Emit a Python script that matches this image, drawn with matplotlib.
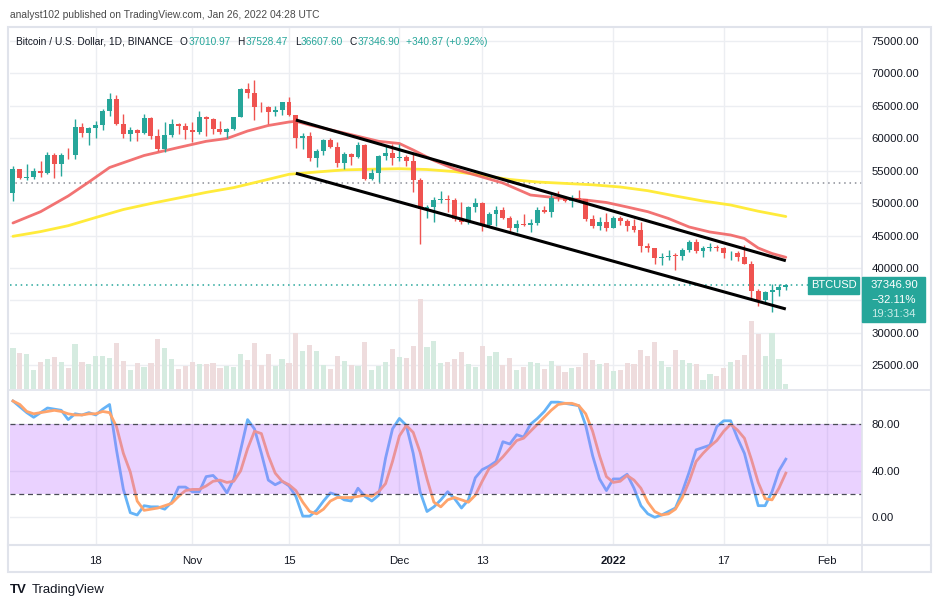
import numpy as np
import pandas as pd
import matplotlib
matplotlib.use("Agg")
import matplotlib.pyplot as plt
from matplotlib.lines import Line2D
from matplotlib.patches import Rectangle
from matplotlib.transforms import blended_transform_factory

W, H = 941, 608
plt.rcParams['font.family'] = ['Liberation Sans', 'DejaVu Sans']

# ---- data (BTCUSD daily) ----
dates = pd.date_range('2021-10-06', '2022-01-26', freq='D')
opens = [51486, 55338, 53805, 53967, 54968, 54659, 57471, 56005, 57367, 57347,
         61672, 60875, 61528, 62010, 64280, 66001, 62193, 60688, 61286, 60852,
         63078, 60328, 58413, 60575, 62253, 61859, 61299, 60911, 63254, 62896,
         61396, 60941, 61470, 63274, 67525, 66947, 64882, 64775, 64123, 64380,
         65519, 63607, 60059, 60345, 56891, 58052, 59707, 58617, 56247, 57541,
         57138, 58960, 53723, 54716, 57274, 57777, 56950, 57185, 56485, 53602,
         49153, 49397, 50441, 50589, 50472, 47536, 47140, 49389, 50054, 46703,
         48336, 48864, 47632, 46134, 46834, 46682, 46918, 48887, 48588, 50839,
         50820, 50400, 50775, 50702, 47544, 46464, 47121, 46216, 47722, 47286,
         46446, 45832, 43451, 43082, 41566, 41679, 41865, 41865, 42736, 43946,
         42592, 43099, 43177, 43113, 42250, 42375, 41744, 40680, 36471, 35071,
         36244, 36660, 37011]
highs = [55750, 55338, 56100, 55489, 56561, 57839, 57680, 57778, 58532, 62933,
         62350, 61720, 62695, 64486, 67000, 66639, 63732, 61747, 61500, 63710,
         63293, 61496, 62499, 62980, 62359, 62405, 62437, 64270, 63500, 63086,
         62595, 61560, 63286, 67789, 68524, 69000, 65600, 65000, 64960, 65550,
         66401, 63617, 60824, 60977, 58372, 59845, 60029, 59444, 57875, 57735,
         59398, 59150, 55280, 57445, 58865, 59176, 59053, 57376, 57600, 53859,
         49699, 50939, 51936, 51200, 50797, 50125, 49485, 50777, 50189, 48700,
         49500, 49436, 47995, 47392, 48300, 47537, 49328, 49576, 51375, 51810,
         51156, 51281, 52088, 50704, 48139, 47900, 48548, 47954, 47990, 47570,
         47557, 47070, 43817, 43145, 42300, 42786, 42248, 43100, 44350, 44459,
         43448, 43800, 43478, 43180, 42690, 42578, 43505, 41100, 36835, 36499,
         37550, 37545, 37528]
lows = [50382, 53657, 53617, 53661, 54100, 54415, 53879, 54253, 56818, 56850,
        60150, 58963, 60000, 61322, 63481, 62000, 60000, 59562, 59510, 60650,
        59817, 58000, 57820, 60174, 60673, 59945, 59405, 60624, 60382, 60677,
        60721, 60050, 61322, 63273, 66222, 62822, 64100, 62278, 63383, 63577,
        63400, 58574, 58373, 56474, 55600, 57353, 58487, 55610, 55317, 55837,
        57000, 53500, 53610, 53256, 56666, 55875, 56458, 55777, 51680, 43650,
        47727, 47100, 50039, 48600, 47320, 46852, 46751, 48638, 45672, 46290,
        46547, 47511, 45456, 45500, 46406, 45558, 46630, 48421, 47920, 50384,
        50142, 49412, 50449, 47313, 46096, 45900, 45678, 46208, 46654, 45696,
        45502, 42500, 42430, 40610, 40501, 41200, 39650, 41268, 42450, 42311,
        41725, 42555, 42581, 41540, 41250, 41138, 40553, 35440, 34200, 34601,
        33150, 35701, 36608]
closes = [55338, 53805, 53967, 54968, 54659, 57471, 56005, 57367, 57347, 61672,
          60875, 61528, 62010, 64280, 66001, 62193, 60688, 61286, 60852, 63078,
          60328, 58413, 60575, 62253, 61859, 61299, 60911, 63219, 62896, 61395,
          60937, 61470, 63273, 67525, 66947, 64882, 64774, 64122, 64380, 65519,
          63607, 60058, 60345, 56891, 58052, 59707, 58622, 56247, 57541, 57138,
          58960, 53726, 54721, 57274, 57776, 56950, 57184, 56480, 53601, 49152,
          49396, 50441, 50588, 50471, 47545, 47140, 49389, 50053, 46702, 48343,
          48864, 47632, 46131, 46834, 46681, 46914, 48889, 48588, 50838, 50820,
          50400, 50775, 50701, 47543, 46464, 47120, 46216, 47722, 47286, 46446,
          45832, 43451, 43082, 41566, 41679, 41865, 41864, 42736, 43949, 42592,
          43099, 43177, 43113, 42250, 42375, 41744, 40681, 36445, 35071, 36244,
          36660, 37006, 37347]
volume = [123, 108, 105, 57, 81, 90, 96, 81, 63, 135,
          81, 75, 99, 99, 93, 138, 84, 57, 78, 66,
          78, 150, 123, 90, 60, 69, 81, 75, 75, 78,
          63, 69, 66, 105, 87, 138, 72, 105, 69, 90,
          78, 168, 114, 132, 114, 72, 60, 99, 84, 72,
          69, 141, 57, 69, 81, 120, 96, 93, 129, 270,
          126, 144, 78, 81, 90, 111, 75, 66, 129, 99,
          111, 72, 93, 57, 66, 81, 78, 60, 84, 69,
          51, 63, 66, 108, 87, 75, 78, 54, 57, 78,
          75, 117, 99, 141, 84, 66, 117, 87, 78, 75,
          27, 45, 39, 63, 81, 87, 102, 204, 166, 99,
          169, 90, 15]

# moving averages (red fast, yellow slow), sampled along the lines
ma_fast_days = [0, 4, 8, 11, 14, 19, 24, 28, 31, 34, 37, 40, 41, 43, 48, 53, 56, 58,
                61, 64, 68, 71, 75, 79, 83, 86, 89, 92, 95, 98, 101, 104, 106, 108, 110, 112]
ma_fast = [46936, 48678, 51099, 53258, 55494, 57344, 58578, 59534, 59965, 61122, 61970,
           62510, 62618, 62047, 60814, 59534, 59194, 58192, 56573, 55262, 54029, 53104,
           51253, 50791, 50482, 50097, 49403, 48678, 47629, 46319, 45548, 45085, 44545,
           43081, 42232, 41647]
ma_slow_days = [0, 4, 8, 12, 16, 20, 24, 28, 32, 36, 40, 44, 48, 52, 56, 60, 64, 68,
                72, 76, 80, 84, 88, 92, 96, 100, 104, 108, 112]
ma_slow = [44885, 45609, 46519, 47784, 49017, 49942, 50791, 51654, 52394, 53412, 54445,
           54800, 55124, 55232, 55309, 55185, 54861, 54291, 53643, 53258, 53042, 52826,
           52487, 51916, 51099, 50328, 49711, 48755, 47938]

# stochastic RSI %K / %D
stoch_k = [100, 95, 90, 86, 90, 94, 93, 92, 84, 89, 88, 90, 88, 93, 97, 58, 24, 4, 2, 10,
           9, 9, 7, 13, 26, 26, 22, 22, 35, 36, 30, 21, 33, 58, 84, 76, 55, 32, 28, 31,
           27, 18, 1, 1, 6, 14, 21, 19, 15, 14, 25, 18, 14, 19, 51, 76, 85, 79, 55, 22,
           5, 9, 15, 22, 16, 8, 15, 34, 41, 44, 48, 65, 63, 71, 69, 80, 85, 91, 99, 99,
           98, 97, 96, 79, 53, 33, 23, 33, 33, 37, 25, 10, 3, 0, 2, 5, 8, 22, 39, 58,
           60, 62, 78, 83, 83, 68, 55, 32, 10, 10, 22, 40, 50]
stoch_d = [100, 97, 91, 89, 90, 91, 92, 91, 89, 88, 88, 89, 89, 91, 90, 78, 55, 39, 14, 6,
           7, 8, 10, 12, 18, 23, 24, 24, 27, 31, 32, 30, 31, 40, 59, 74, 72, 53, 38, 31,
           28, 23, 13, 5, 3, 7, 14, 17, 17, 17, 18, 19, 18, 22, 29, 48, 70, 79, 73, 56,
           33, 13, 9, 15, 17, 15, 13, 19, 31, 42, 46, 52, 59, 66, 68, 74, 80, 86, 92, 97,
           98, 98, 96, 89, 74, 53, 35, 30, 31, 36, 32, 25, 13, 5, 2, 3, 7, 17, 31, 48,
           55, 61, 66, 74, 80, 75, 68, 50, 30, 16, 15, 25, 38]

# descending channel (drawn trend lines)
channel_dates = ['2021-11-16', '2022-01-26']
channel_upper = [62818, 41122]
channel_lower = [54600, 33674]
ref_level = 53057
last_price = 37346.90

tick_dates = ['2021-10-18', '2021-11-01', '2021-11-15', '2021-12-01',
              '2021-12-13', '2022-01-01', '2022-01-17', '2022-02-01']
tick_labels = ['18', 'Nov', '15', 'Dec', '13', '2022', '17', 'Feb']

# ---- helpers ----
def fx(px):
    return px / W

def fy(py):
    return 1 - py / H

def day(d):
    return (pd.Timestamp(d) - dates[0]).days

UP, DN = '#26a69a', '#ef5350'
GRID = '#eceef2'
TXT = '#131722'

x = np.arange(len(dates))
o, h, l, c = map(np.array, (opens, highs, lows, closes))
up = c >= o
tick_pos = [day(d) for d in tick_dates]

fig = plt.figure(figsize=(W / 100, H / 100), dpi=100)
fig.patch.set_facecolor('white')

# ---- main price pane ----
ax = fig.add_axes([fx(10), fy(389), 852 / W, 361 / H])
ax.set_xlim(-0.43, 123.04)
ax.set_ylim(21338, 77005)
for s in ax.spines.values():
    s.set_visible(False)
price_ticks = list(range(25000, 80000, 5000))
ax.set_yticks(price_ticks)
ax.set_yticklabels(['' if v == 35000 else f'{v:.2f}' for v in price_ticks])
ax.yaxis.tick_right()
ax.tick_params(axis='y', length=0, pad=7, labelsize=8.2, labelcolor=TXT)
ax.set_xticks(tick_pos)
ax.tick_params(axis='x', length=0, labelbottom=False)
ax.grid(True, color=GRID, lw=1, zorder=0)
ax.set_axisbelow(True)

# volume overlay (bottom of pane)
vtr = blended_transform_factory(ax.transData, ax.transAxes)
vol_top = 1083.0
vcol = ['#d5ebe0' if u else '#eedcdd' for u in up]
ax.bar(x, np.array(volume) / vol_top, width=0.75, bottom=0, color=vcol,
       transform=vtr, zorder=1)

# reference dotted lines
ax.axhline(ref_level, color='#8a8d96', lw=1.1, ls=(0, (1, 2.5)), zorder=1.5)
ax.plot([-0.43, 115.5], [last_price, last_price], color=UP, lw=1.1,
        ls=(0, (1, 2.5)), zorder=1.5)

# moving averages
ax.plot(ma_slow_days, ma_slow, color='#ffeb3b', lw=2.0, zorder=2, solid_capstyle='round')
ax.plot(ma_fast_days, ma_fast, color='#f05a5a', lw=2.0, alpha=0.85, zorder=2,
        solid_capstyle='round')

# candles
body_lo = np.minimum(o, c)
body_h = np.maximum(np.abs(c - o), 120)
ccol = [UP if u else DN for u in up]
ax.vlines(x, l, h, colors=ccol, lw=1.0, zorder=3)
ax.bar(x, body_h, bottom=body_lo, width=0.72, color=ccol, zorder=3.5)

# channel lines
cx = [day(d) for d in channel_dates]
ax.plot(cx, channel_upper, color='black', lw=2.2, zorder=4, solid_capstyle='butt')
ax.plot(cx, channel_lower, color='black', lw=2.2, zorder=4, solid_capstyle='butt')

# ---- stochastic RSI pane ----
ax2 = fig.add_axes([fx(10), fy(545), 852 / W, 154 / H])
ax2.set_xlim(-0.43, 123.04)
ax2.set_ylim(-23.8, 108.6)
for s in ax2.spines.values():
    s.set_visible(False)
ax2.set_yticks([0, 40, 80])
ax2.set_yticklabels(['0.00', '40.00', '80.00'])
ax2.yaxis.tick_right()
ax2.tick_params(axis='y', length=0, pad=7, labelsize=8.2, labelcolor=TXT)
ax2.set_xticks(tick_pos)
ax2.set_xticklabels(tick_labels)
ax2.tick_params(axis='x', length=0, pad=8, labelsize=8.2, labelcolor=TXT)
for lab in ax2.get_xticklabels():
    if lab.get_text() == '2022':
        lab.set_fontweight('bold')
ax2.grid(True, color=GRID, lw=1, zorder=0)
ax2.set_axisbelow(True)

ax2.plot(x, stoch_k, color='#66b3f7', lw=2.0, zorder=2)
ax2.plot(x, stoch_d, color='#ffa46c', lw=2.0, zorder=2.1)
ax2.axhspan(20, 80, color='#ba6cff', alpha=0.3, lw=0, zorder=3)
ax2.axhline(80, color='#4a4d57', lw=0.9, ls=(0, (4, 3)), zorder=4)
ax2.axhline(20, color='#4a4d57', lw=0.9, ls=(0, (4, 3)), zorder=4)

# ---- frame / separators ----
FR = '#e0e3eb'
fig.add_artist(Rectangle((fx(8), fy(572)), (931 - 8) / W, (572 - 27) / H,
                         fill=False, ec=FR, lw=1.5, transform=fig.transFigure))
fig.add_artist(Line2D([fx(862), fx(862)], [fy(27), fy(572)], color=FR, lw=1.2,
                      transform=fig.transFigure))
fig.add_artist(Line2D([fx(8), fx(931)], [fy(545), fy(545)], color=FR, lw=1.5,
                      transform=fig.transFigure))
fig.add_artist(Line2D([fx(8), fx(931)], [fy(390), fy(390)], color=FR, lw=1.2,
                      transform=fig.transFigure))

# last price labels
fig.add_artist(Rectangle((fx(808), fy(294)), 51 / W, 17 / H, color=UP,
                         transform=fig.transFigure, zorder=5))
fig.text(fx(833.5), fy(285.5), 'BTCUSD', color='white', fontsize=8,
         ha='center', va='center', zorder=6)
fig.add_artist(Rectangle((fx(862), fy(322)), 63 / W, 45 / H, color=UP,
                         transform=fig.transFigure, zorder=5))
fig.text(fx(871), fy(285.5), '37346.90', color='white', fontsize=8.2, va='center', zorder=6)
fig.text(fx(871), fy(300), '\u221232.11%', color='white', fontsize=8.2, va='center', zorder=6)
fig.text(fx(871), fy(314), '19:31:34', color='#c8ece8', fontsize=8.2, va='center', zorder=6)

# ---- header texts ----
fig.text(fx(10), fy(15), 'analyst102 published on TradingView.com, Jan 26, 2022 04:28 UTC',
         color='#4a4a4a', fontsize=7.4, va='center')

fig.canvas.draw()
rend = fig.canvas.get_renderer()
segs = [('Bitcoin / U.S. Dollar, 1D, BINANCE', TXT, 7), ('O', TXT, 0.5),
        ('37010.97', UP, 7), ('H', TXT, 0.5), ('37528.47', UP, 7), ('L', TXT, 0.5),
        ('36607.60', UP, 7), ('C', TXT, 0.5), ('37346.90', UP, 6),
        ('+340.87 (+0.92%)', UP, 0)]
xp = 16
for txt, col, gap in segs:
    t = fig.text(fx(xp), fy(42), txt, color=col, fontsize=7.3, va='center')
    xp += t.get_window_extent(renderer=rend).width + gap

# footer
fig.text(fx(10), fy(590), 'TV', color=TXT, fontsize=9.5, fontweight='heavy', va='center')
fig.text(fx(32), fy(590), 'TradingView', color=TXT, fontsize=9.5, va='center')

fig.savefig('out.png', dpi=100)
plt.close(fig)
